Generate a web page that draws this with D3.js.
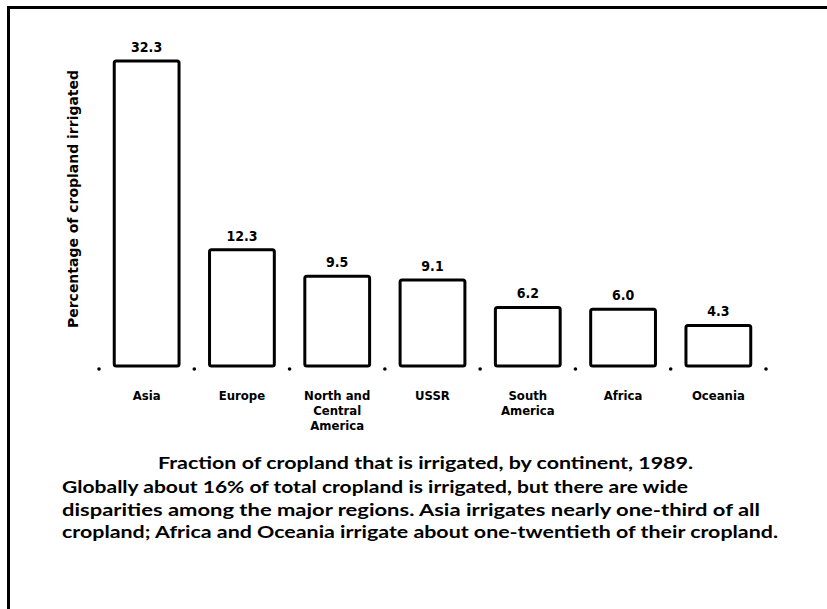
<!DOCTYPE html>
<html>
<head>
<meta charset="utf-8">
<script src="https://cdn.jsdelivr.net/npm/d3@7"></script>
<style>
  body { margin: 0; background: #fff; }
  svg { display: block; }
  text { fill: #000; }
</style>
</head>
<body>
<svg class="chart"></svg>
<script>
var W = 827, H = 609;

// data
var continents = ["Asia", "Europe", "North and Central America", "USSR", "South America", "Africa", "Oceania"];
var labelLines = [["Asia"], ["Europe"], ["North and", "Central", "America"], ["USSR"], ["South", "America"], ["Africa"], ["Oceania"]];
var irrigated = [32.3, 12.3, 9.5, 9.1, 6.2, 6.0, 4.3];
var valueLabels = ["32.3", "12.3", "9.5", "9.1", "6.2", "6.0", "4.3"];
var captionLines = [
  "Fraction of cropland that is irrigated, by continent, 1989.",
  "Globally about 16% of total cropland is irrigated, but there are wide",
  "disparities among the major regions. Asia irrigates nearly one-third of all",
  "cropland; Africa and Oceania irrigate about one-twentieth of their cropland."
];

var svg = d3.select(".chart")
    .attr("width", W)
    .attr("height", H);

// frame (top and left edges only, as scanned)
svg.append("path")
    .attr("d", "M8.5,609 V7.5 H827")
    .attr("fill", "none")
    .attr("stroke", "#000")
    .attr("stroke-width", 3);

// scales
var xScale = d3.scaleBand().domain(continents).range([99, 766]).paddingInner(0.32).paddingOuter(0.16),
    yScale = d3.scaleLinear().domain([0, 32.3]).range([366, 61]);

var rows = continents.map(function(c, i) {
  return {name: c, value: irrigated[i], label: valueLabels[i], lines: labelLines[i]};
});

// bars
svg.selectAll(".bar")
    .data(rows)
  .enter().append("rect")
    .attr("class", "bar")
    .attr("x", function(d) { return xScale(d.name); })
    .attr("y", function(d) { return yScale(d.value); })
    .attr("width", xScale.bandwidth())
    .attr("height", function(d) { return yScale(0) - yScale(d.value); })
    .attr("rx", 2)
    .attr("fill", "#fff")
    .attr("stroke", "#000")
    .attr("stroke-width", 3);

// baseline dots between bars
var step = xScale.step();
var dotX = continents.map(function(c) { return xScale(c) - (step - xScale.bandwidth()) / 2; });
dotX.push(xScale(continents[continents.length - 1]) + xScale.bandwidth() + (step - xScale.bandwidth()) / 2);
svg.selectAll(".dot")
    .data(dotX)
  .enter().append("circle")
    .attr("class", "dot")
    .attr("cx", function(d) { return d; })
    .attr("cy", yScale(0) + 3)
    .attr("r", 1.8)
    .attr("fill", "#000");

// value labels
svg.selectAll(".value")
    .data(rows)
  .enter().append("text")
    .attr("class", "value")
    .attr("x", function(d) { return xScale(d.name) + xScale.bandwidth() / 2; })
    .attr("y", function(d) { return yScale(d.value) - 9; })
    .attr("text-anchor", "middle")
    .style("font", "bold 14px 'Liberation Sans Narrow', 'DejaVu Sans Condensed', sans-serif")
    .text(function(d) { return d.label; });

// category labels
var cat = svg.selectAll(".cat")
    .data(rows)
  .enter().append("text")
    .attr("class", "cat")
    .attr("text-anchor", "middle")
    .style("font", "bold 13px 'Liberation Sans Narrow', 'DejaVu Sans Condensed', sans-serif");
cat.selectAll("tspan")
    .data(function(d) { return d.lines.map(function(l) { return {name: d.name, line: l}; }); })
  .enter().append("tspan")
    .attr("x", function(d) { return xScale(d.name) + xScale.bandwidth() / 2; })
    .attr("y", function(d, i) { return 400 + i * 15; })
    .text(function(d) { return d.line; });

// y-axis label
svg.append("text")
    .attr("class", "label")
    .attr("transform", "translate(78,199) rotate(-90)")
    .attr("text-anchor", "middle")
    .attr("textLength", 258)
    .attr("lengthAdjust", "spacingAndGlyphs")
    .style("font", "bold 14px 'Liberation Sans Narrow', 'DejaVu Sans Condensed', sans-serif")
    .text("Percentage of cropland irrigated");

// caption
var capX = [158, 62, 62, 62],
    capY = [469, 493, 516, 538],
    capLen = [535, 626, 698, 716];
svg.selectAll(".caption")
    .data(captionLines)
  .enter().append("text")
    .attr("class", "caption")
    .attr("x", function(d, i) { return capX[i]; })
    .attr("y", function(d, i) { return capY[i]; })
    .attr("textLength", function(d, i) { return capLen[i]; })
    .attr("lengthAdjust", "spacingAndGlyphs")
    .style("font", "bold 17px Lato, 'Open Sans', sans-serif")
    .text(function(d) { return d; });
</script>
</body>
</html>
